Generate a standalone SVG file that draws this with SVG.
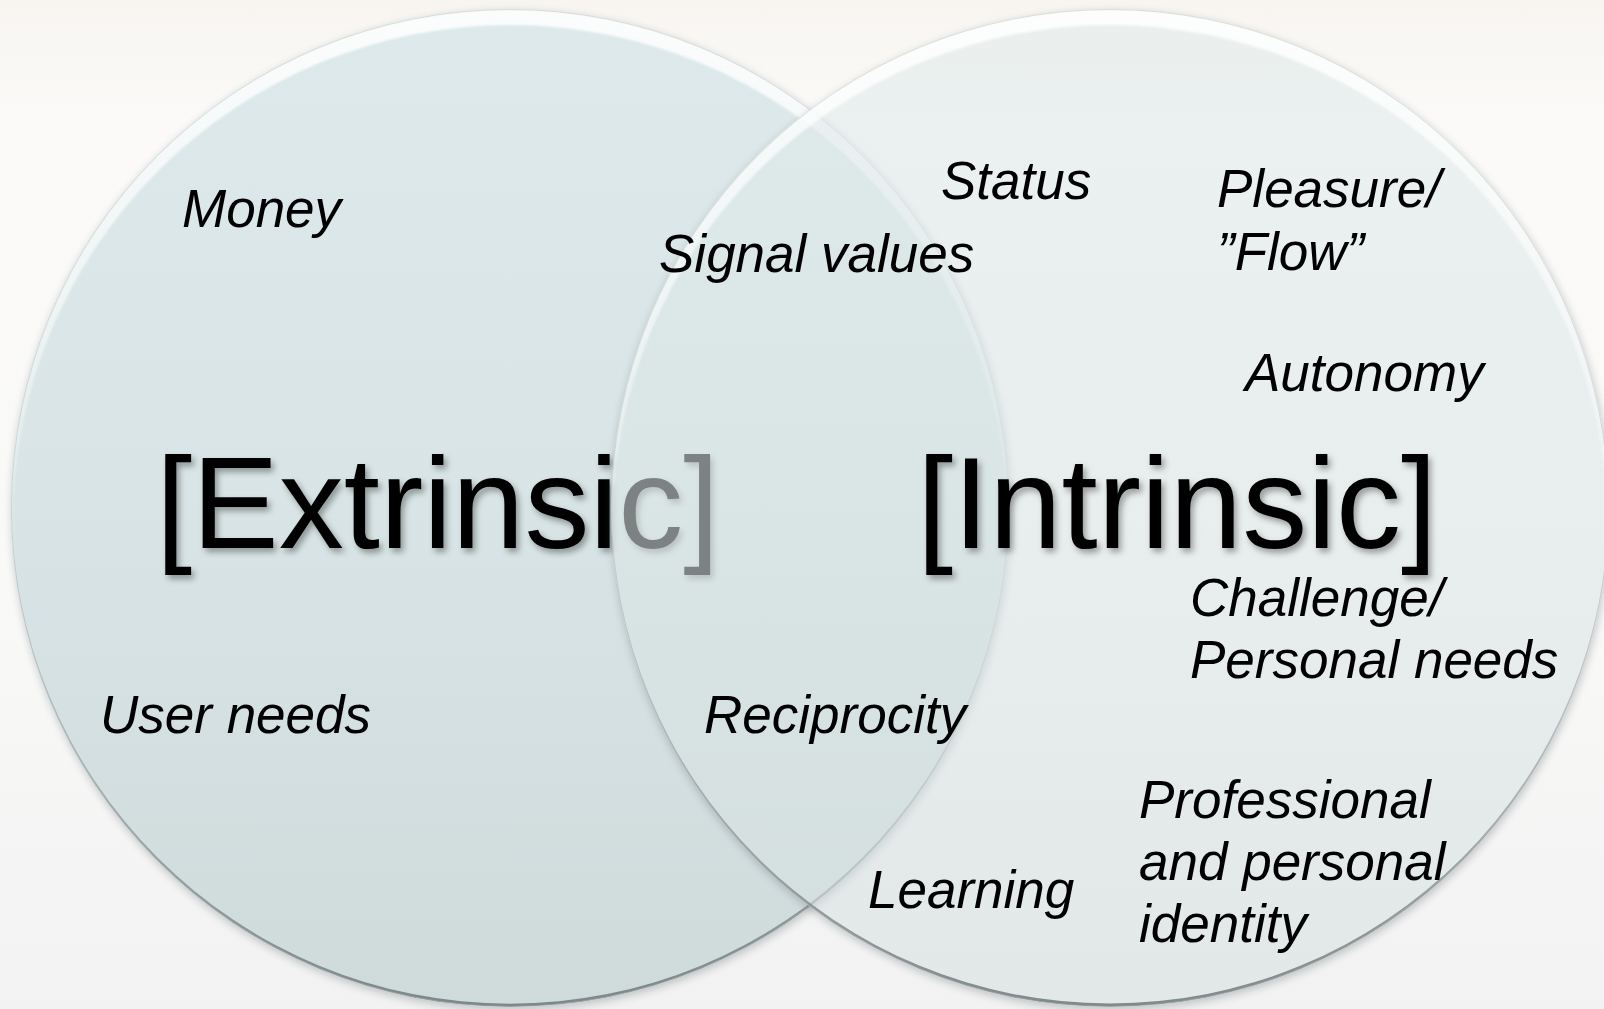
<svg xmlns="http://www.w3.org/2000/svg" width="1604" height="1009" viewBox="0 0 1604 1009">
  <style>
    .lbl { font-family: "Liberation Sans", Arial, sans-serif; font-style: italic; font-size: 53px; fill: #000; }
    .big { font-family: "Liberation Sans", Arial, sans-serif; font-size: 130px; fill: #000; filter: url(#txtShadow); }
  </style>
  <defs>
    <linearGradient id="bg" x1="0" y1="0" x2="0" y2="1">
      <stop offset="0" stop-color="#f8f5f1"/>
      <stop offset="0.12" stop-color="#fbfaf8"/>
      <stop offset="0.6" stop-color="#f9f9f8"/>
      <stop offset="1" stop-color="#f2f2f2"/>
    </linearGradient>
    <linearGradient id="fillL" x1="0" y1="0" x2="0" y2="1">
      <stop offset="0" stop-color="#dde9ea"/>
      <stop offset="0.5" stop-color="#d8e4e5"/>
      <stop offset="1" stop-color="#cfdadb"/>
    </linearGradient>
    <linearGradient id="fillR" x1="0" y1="0" x2="0" y2="1">
      <stop offset="0" stop-color="#e0eaeb"/>
      <stop offset="0.5" stop-color="#dbe5e6"/>
      <stop offset="1" stop-color="#d6e0e1"/>
    </linearGradient>
    <linearGradient id="hiGrad" x1="0" y1="0" x2="0" y2="1">
      <stop offset="0" stop-color="#ffffff" stop-opacity="0.9"/>
      <stop offset="0.3" stop-color="#ffffff" stop-opacity="0.55"/>
      <stop offset="0.55" stop-color="#ffffff" stop-opacity="0.15"/>
      <stop offset="0.7" stop-color="#ffffff" stop-opacity="0"/>
    </linearGradient>
    <linearGradient id="loGrad" x1="0" y1="0" x2="0" y2="1">
      <stop offset="0.45" stop-color="#7d8788" stop-opacity="0"/>
      <stop offset="0.8" stop-color="#7d8788" stop-opacity="0.6"/>
      <stop offset="1" stop-color="#6f7879" stop-opacity="0.85"/>
    </linearGradient>
    <clipPath id="clipL"><circle cx="510" cy="508" r="499"/></clipPath>
    <clipPath id="clipR"><circle cx="1110" cy="508" r="499"/></clipPath>
    <mask id="outL" maskUnits="userSpaceOnUse" x="0" y="0" width="1604" height="1009">
      <rect width="1604" height="1009" fill="#fff"/>
      <circle cx="510" cy="508" r="499" fill="#000"/>
    </mask>
    <mask id="outR" maskUnits="userSpaceOnUse" x="0" y="0" width="1604" height="1009">
      <rect width="1604" height="1009" fill="#fff"/>
      <circle cx="1110" cy="508" r="499" fill="#000"/>
    </mask>
    <filter id="blur4" x="-10%" y="-10%" width="120%" height="120%">
      <feGaussianBlur stdDeviation="4"/>
    </filter>
    <filter id="blur1" x="-5%" y="-5%" width="110%" height="110%">
      <feGaussianBlur stdDeviation="1.2"/>
    </filter>
    <filter id="txtShadow" x="-10%" y="-20%" width="120%" height="140%">
      <feDropShadow dx="3" dy="4" stdDeviation="3" flood-color="#000" flood-opacity="0.35"/>
    </filter>
  </defs>

  <rect id="background" width="1604" height="1009" fill="url(#bg)"/>

  <g id="circle-extrinsic">
    <g mask="url(#outL)">
      <circle cx="511" cy="511" r="499" fill="#5f686a" opacity="0.35" filter="url(#blur4)"/>
    </g>
    <circle cx="510" cy="508" r="499" fill="url(#fillL)"/>
    <g clip-path="url(#clipL)">
      <path fill="url(#hiGrad)" fill-rule="evenodd" filter="url(#blur1)"
        d="M11,508 A499,499 0 1,0 1009,508 A499,499 0 1,0 11,508 Z M13,522 A497,497 0 1,0 1007,522 A497,497 0 1,0 13,522 Z"/>
      <path fill="url(#loGrad)" fill-rule="evenodd"
        d="M11,508 A499,499 0 1,0 1009,508 A499,499 0 1,0 11,508 Z M11.5,505 A498.5,498.5 0 1,0 1008.5,505 A498.5,498.5 0 1,0 11.5,505 Z"/>
    </g>
    <circle cx="510" cy="508" r="498.5" fill="none" stroke="#b9c3c4" stroke-width="1" opacity="0.5"/>
  </g>

  <g id="label-extrinsic">
    <text class="big" x="156" y="548">[Extrinsic]</text>
  </g>

  <g id="circle-intrinsic">
    <g mask="url(#outR)">
      <circle cx="1111" cy="511" r="499" fill="#5f686a" opacity="0.35" filter="url(#blur4)"/>
    </g>
    <circle cx="1110" cy="508" r="499" fill="url(#fillR)" fill-opacity="0.57"/>
    <g clip-path="url(#clipR)">
      <path fill="url(#hiGrad)" fill-rule="evenodd" filter="url(#blur1)"
        d="M611,508 A499,499 0 1,0 1609,508 A499,499 0 1,0 611,508 Z M613,522 A497,497 0 1,0 1607,522 A497,497 0 1,0 613,522 Z"/>
      <path fill="url(#loGrad)" fill-rule="evenodd"
        d="M611,508 A499,499 0 1,0 1609,508 A499,499 0 1,0 611,508 Z M611.5,505 A498.5,498.5 0 1,0 1608.5,505 A498.5,498.5 0 1,0 611.5,505 Z"/>
    </g>
    <circle cx="1110" cy="508" r="498.5" fill="none" stroke="#b9c3c4" stroke-width="1" opacity="0.5"/>
  </g>

  <g id="label-intrinsic">
    <text class="big" x="917" y="548">[Intrinsic]</text>
  </g>

  <g id="connectors"/>

  <g id="item-money"><text class="lbl" x="182" y="227">Money</text></g>
  <g id="item-user-needs"><text class="lbl" x="100" y="733">User needs</text></g>
  <g id="item-signal-values"><text class="lbl" x="659" y="272">Signal values</text></g>
  <g id="item-reciprocity"><text class="lbl" x="704" y="733">Reciprocity</text></g>
  <g id="item-status"><text class="lbl" x="941" y="199">Status</text></g>
  <g id="item-pleasure-flow">
    <text class="lbl" x="1217" y="207">Pleasure/</text>
    <text class="lbl" x="1217" y="270">”Flow”</text>
  </g>
  <g id="item-autonomy"><text class="lbl" x="1245" y="391">Autonomy</text></g>
  <g id="item-challenge">
    <text class="lbl" x="1190" y="616">Challenge/</text>
    <text class="lbl" x="1190" y="678">Personal needs</text>
  </g>
  <g id="item-learning"><text class="lbl" x="868" y="908">Learning</text></g>
  <g id="item-identity">
    <text class="lbl" x="1139" y="818">Professional</text>
    <text class="lbl" x="1139" y="880">and personal</text>
    <text class="lbl" x="1139" y="942">identity</text>
  </g>
</svg>
